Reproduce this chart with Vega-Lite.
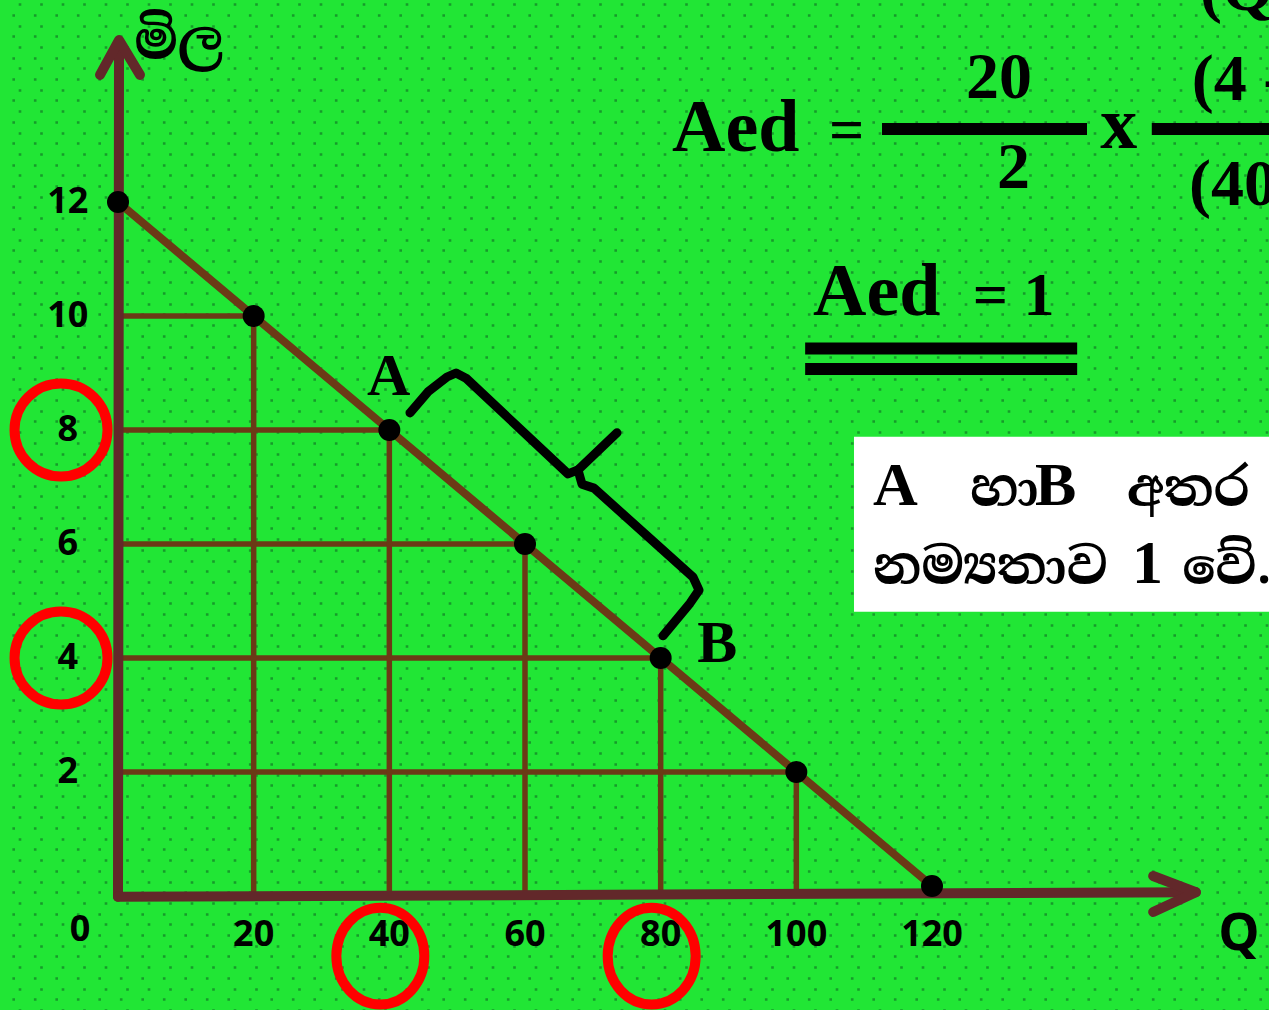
{
  "$schema": "https://vega.github.io/schema/vega-lite/v6.json",
  "width": 1269,
  "height": 1010,
  "padding": 0,
  "autosize": {"type": "none"},
  "background": "#21e635",
  "config": {"view": {"stroke": null}},
  "datasets": {
    "demand": [
      {"q": 0, "p": 12},
      {"q": 20, "p": 10},
      {"q": 40, "p": 8},
      {"q": 60, "p": 6},
      {"q": 80, "p": 4},
      {"q": 100, "p": 2},
      {"q": 120, "p": 0}
    ],
    "axes": [
      {"part": "y", "i": 0, "q": 0, "p": -0.19},
      {"part": "y", "i": 1, "q": 0.15, "p": 14.8},
      {"part": "x", "i": 0, "q": 0, "p": -0.19},
      {"part": "x", "i": 1, "q": 158.9, "p": -0.11},
      {"part": "yhead", "i": 0, "q": -2.65, "p": 14.23},
      {"part": "yhead", "i": 1, "q": 0.15, "p": 14.84},
      {"part": "yhead", "i": 2, "q": 3.24, "p": 14.23},
      {"part": "xhead", "i": 0, "q": 152.6, "p": 0.175},
      {"part": "xhead", "i": 1, "q": 158.9, "p": -0.11},
      {"part": "xhead", "i": 2, "q": 152.6, "p": -0.456}
    ],
    "brace": [
      {"seg": 1, "i": 0, "q": 43.05, "p": 8.3},
      {"seg": 1, "i": 1, "q": 45.7, "p": 8.67},
      {"seg": 1, "i": 2, "q": 48.5, "p": 8.93},
      {"seg": 1, "i": 3, "q": 49.83, "p": 9.0},
      {"seg": 1, "i": 4, "q": 51.3, "p": 8.91},
      {"seg": 1, "i": 5, "q": 66.34, "p": 7.23},
      {"seg": 1, "i": 6, "q": 67.81, "p": 7.3},
      {"seg": 1, "i": 7, "q": 73.56, "p": 7.95},
      {"seg": 2, "i": 0, "q": 67.81, "p": 7.3},
      {"seg": 2, "i": 1, "q": 68.4, "p": 7.05},
      {"seg": 2, "i": 2, "q": 70.17, "p": 6.98},
      {"seg": 2, "i": 3, "q": 84.77, "p": 5.42},
      {"seg": 2, "i": 4, "q": 85.65, "p": 5.19},
      {"seg": 2, "i": 5, "q": 84.32, "p": 4.96},
      {"seg": 2, "i": 6, "q": 80.34, "p": 4.39}
    ],
    "box": [{"q": 108.5, "q2": 175, "p": 7.88, "p2": 4.81}],
    "bars": [
      {"q": 112.63, "q2": 142.85, "p": 13.28},
      {"q": 152.4, "q2": 175, "p": 13.28},
      {"q": 101.3, "q2": 141.4, "p": 9.43},
      {"q": 101.3, "q2": 141.4, "p": 9.07}
    ],
    "points": [
      {"label": "A", "q": 36.7, "p": 8.61},
      {"label": "B", "q": 85.4, "p": 3.93}
    ],
    "terms": [
      {"t": "Aed", "q": 81.67, "p": 12.895},
      {"t": "x", "q": 144.8, "p": 12.95},
      {"t": "Aed", "q": 102.46, "p": 10.02}
    ],
    "nums": [
      {"t": "20", "q": 125.0, "p": 13.82},
      {"t": "2", "q": 129.6, "p": 12.25},
      {"t": "(4 - 8)", "q": 158.3, "p": 13.79},
      {"t": "(40 - 80)", "q": 157.9, "p": 11.95},
      {"t": "(Q2 - Q1)", "q": 159.5, "p": 15.37}
    ],
    "ops": [
      {"t": "=", "q": 104.8, "p": 12.91},
      {"t": "= 1", "q": 126.0, "p": 10.02}
    ],
    "noteLatin": [
      {"t": "A", "q": 111.3, "p": 6.684},
      {"t": "B", "q": 135.2, "p": 6.684},
      {"t": "1", "q": 149.5, "p": 5.316}
    ],
    "noteSinhala": [
      {"t": "හා", "q": 125.6, "p": 6.684},
      {"t": "අතර", "q": 148.75, "p": 6.684},
      {"t": "නම්‍යතාව", "q": 111.3, "p": 5.316},
      {"t": "වේ.", "q": 156.9, "p": 5.316}
    ],
    "priceTitle": [{"t": "මිල", "q": 2.4, "p": 14.52}],
    "qTitle": [{"t": "Q", "q": 162.2, "p": -1.123}]
  },
  "layer": [
    {
      "data": {"values": [{"z": 20}]},
      "mark": {"type": "point", "opacity": 0, "size": 0},
      "encoding": {
        "y": {
          "field": "z",
          "type": "quantitative",
          "scale": {"domain": [0, 47.196], "nice": false, "zero": false},
          "axis": {
            "grid": true,
            "gridColor": "#179a2b",
            "gridWidth": 2.6,
            "gridDash": [2.6, 18.9],
            "gridDashOffset": 3.3,
            "labels": false,
            "ticks": false,
            "domain": false,
            "title": null,
            "tickCount": 48,
            "minExtent": 0,
            "maxExtent": 0
          }
        }
      }
    },
    {
      "data": {"values": [{"z": 20}]},
      "mark": {"type": "point", "opacity": 0, "size": 0},
      "encoding": {
        "y": {
          "field": "z",
          "type": "quantitative",
          "scale": {"domain": [-0.5, 46.696], "nice": false, "zero": false},
          "axis": {
            "grid": true,
            "gridColor": "#179a2b",
            "gridWidth": 2.6,
            "gridDash": [2.6, 18.9],
            "gridDashOffset": 14,
            "labels": false,
            "ticks": false,
            "domain": false,
            "title": null,
            "tickCount": 48,
            "minExtent": 0,
            "maxExtent": 0
          }
        }
      }
    },
    {
      "encoding": {
        "x": {"field": "q", "type": "quantitative", "scale": {"domain": [-17.396, 169.68], "nice": false, "zero": false}, "axis": null},
        "y": {"field": "p", "type": "quantitative", "scale": {"domain": [-2.1754, 15.5439], "nice": false, "zero": false}, "axis": null}
      },
      "layer": [
        {
          "data": {"name": "box"},
          "mark": {"type": "rect", "fill": "white", "clip": true},
          "encoding": {"x2": {"field": "q2"}, "y2": {"field": "p2"}}
        },
        {
          "data": {"name": "demand"},
          "transform": [{"filter": "datum.p > 0 && datum.q > 0"}],
          "mark": {"type": "rule", "color": "#6b3a16", "strokeWidth": 5.5},
          "encoding": {"x": {"datum": 0, "type": "quantitative", "axis": null}, "x2": {"field": "q"}}
        },
        {
          "data": {"name": "demand"},
          "transform": [{"filter": "datum.p > 0 && datum.q > 0"}],
          "mark": {"type": "rule", "color": "#6b3a16", "strokeWidth": 5.5},
          "encoding": {"y2": {"datum": -0.19}}
        },
        {
          "data": {"name": "axes"},
          "mark": {"type": "line", "color": "#62282a", "strokeWidth": 10, "strokeCap": "round", "strokeJoin": "round"},
          "encoding": {"detail": {"field": "part"}, "order": {"field": "i"}}
        },
        {
          "data": {"name": "demand"},
          "mark": {"type": "line", "color": "#6b3a16", "strokeWidth": 8},
          "encoding": {"order": {"field": "q"}}
        },
        {
          "data": {"name": "demand"},
          "mark": {"type": "point", "filled": true, "color": "black", "size": 484, "opacity": 1}
        },
        {
          "data": {"name": "brace"},
          "mark": {"type": "line", "color": "black", "strokeWidth": 9, "strokeCap": "round", "strokeJoin": "round"},
          "encoding": {"detail": {"field": "seg"}, "order": {"field": "i"}}
        },
        {
          "data": {"name": "demand"},
          "transform": [{"filter": "datum.p > 0"}],
          "mark": {"type": "text", "font": "Open Sans", "fontWeight": "bold", "fontSize": 36, "color": "black", "align": "center", "baseline": "middle"},
          "encoding": {"x": {"datum": -7.4, "type": "quantitative", "axis": null}, "text": {"field": "p"}}
        },
        {
          "data": {"name": "demand"},
          "transform": [{"filter": "datum.q > 0"}],
          "mark": {"type": "text", "font": "Open Sans", "fontWeight": "bold", "fontSize": 36, "color": "black", "align": "center", "baseline": "middle"},
          "encoding": {"y": {"datum": -0.86, "type": "quantitative", "axis": null}, "text": {"field": "q"}}
        },
        {
          "data": {"name": "demand"},
          "transform": [{"filter": "datum.q == 0"}],
          "mark": {"type": "text", "font": "Open Sans", "fontWeight": "bold", "fontSize": 36, "color": "black", "align": "center", "baseline": "middle"},
          "encoding": {
            "x": {"datum": -5.6, "type": "quantitative", "axis": null},
            "y": {"datum": -0.77, "type": "quantitative", "axis": null},
            "text": {"field": "q"}
          }
        },
        {
          "data": {"name": "demand"},
          "transform": [{"filter": "datum.q == 40 || datum.q == 80"}],
          "mark": {"type": "point", "shape": "circle", "size": 8649, "filled": false, "stroke": "#ff0000", "strokeWidth": 10, "opacity": 1},
          "encoding": {"x": {"datum": -8.4, "type": "quantitative", "axis": null}}
        },
        {
          "data": {"name": "demand"},
          "transform": [{"filter": "datum.q == 40 || datum.q == 80"}],
          "mark": {"type": "point", "shape": "M0,-1.1A1,1.1,0,1,1,0,1.1A1,1.1,0,1,1,0,-1.1Z", "size": 7744, "filled": false, "stroke": "#ff0000", "strokeWidth": 10, "opacity": 1, "xOffset": -9, "clip": true},
          "encoding": {"y": {"datum": -1.23, "type": "quantitative", "axis": null}}
        },
        {
          "data": {"name": "points"},
          "mark": {"type": "text", "font": "Liberation Serif", "fontWeight": "bold", "fontSize": 60, "color": "black", "align": "left", "baseline": "alphabetic"},
          "encoding": {"text": {"field": "label"}}
        },
        {
          "data": {"name": "bars"},
          "mark": {"type": "rule", "color": "black", "strokeWidth": 12, "strokeCap": "butt", "clip": true},
          "encoding": {"x2": {"field": "q2"}}
        },
        {
          "data": {"name": "terms"},
          "mark": {"type": "text", "font": "Liberation Serif", "fontWeight": "bold", "fontSize": 74, "color": "black", "align": "left", "baseline": "alphabetic", "clip": true},
          "encoding": {"text": {"field": "t"}}
        },
        {
          "data": {"name": "nums"},
          "mark": {"type": "text", "font": "Liberation Serif", "fontWeight": "bold", "fontSize": 66, "color": "black", "align": "left", "baseline": "alphabetic", "clip": true},
          "encoding": {"text": {"field": "t"}}
        },
        {
          "data": {"name": "ops"},
          "mark": {"type": "text", "font": "Liberation Serif", "fontWeight": "bold", "fontSize": 62, "color": "black", "align": "left", "baseline": "alphabetic", "clip": true},
          "encoding": {"text": {"field": "t"}}
        },
        {
          "data": {"name": "noteLatin"},
          "mark": {"type": "text", "font": "Liberation Serif", "fontWeight": "bold", "fontSize": 62, "color": "black", "align": "left", "baseline": "alphabetic", "clip": true},
          "encoding": {"text": {"field": "t"}}
        },
        {
          "data": {"name": "noteSinhala"},
          "mark": {"type": "text", "font": "Noto Serif Sinhala, Noto Sans Sinhala, serif", "fontWeight": "bold", "fontSize": 51, "color": "black", "align": "left", "baseline": "alphabetic", "clip": true},
          "encoding": {"text": {"field": "t"}}
        },
        {
          "data": {"name": "priceTitle"},
          "mark": {"type": "text", "font": "Noto Serif Sinhala, Noto Sans Sinhala, serif", "fontWeight": "bold", "fontSize": 52, "color": "black", "align": "left", "baseline": "alphabetic", "clip": true},
          "encoding": {"text": {"field": "t"}}
        },
        {
          "data": {"name": "qTitle"},
          "mark": {"type": "text", "font": "Open Sans", "fontWeight": "bold", "fontSize": 52, "color": "black", "align": "left", "baseline": "alphabetic", "clip": true},
          "encoding": {"text": {"field": "t"}}
        }
      ]
    }
  ],
  "resolve": {"scale": {"y": "independent"}, "axis": {"y": "independent"}}
}
